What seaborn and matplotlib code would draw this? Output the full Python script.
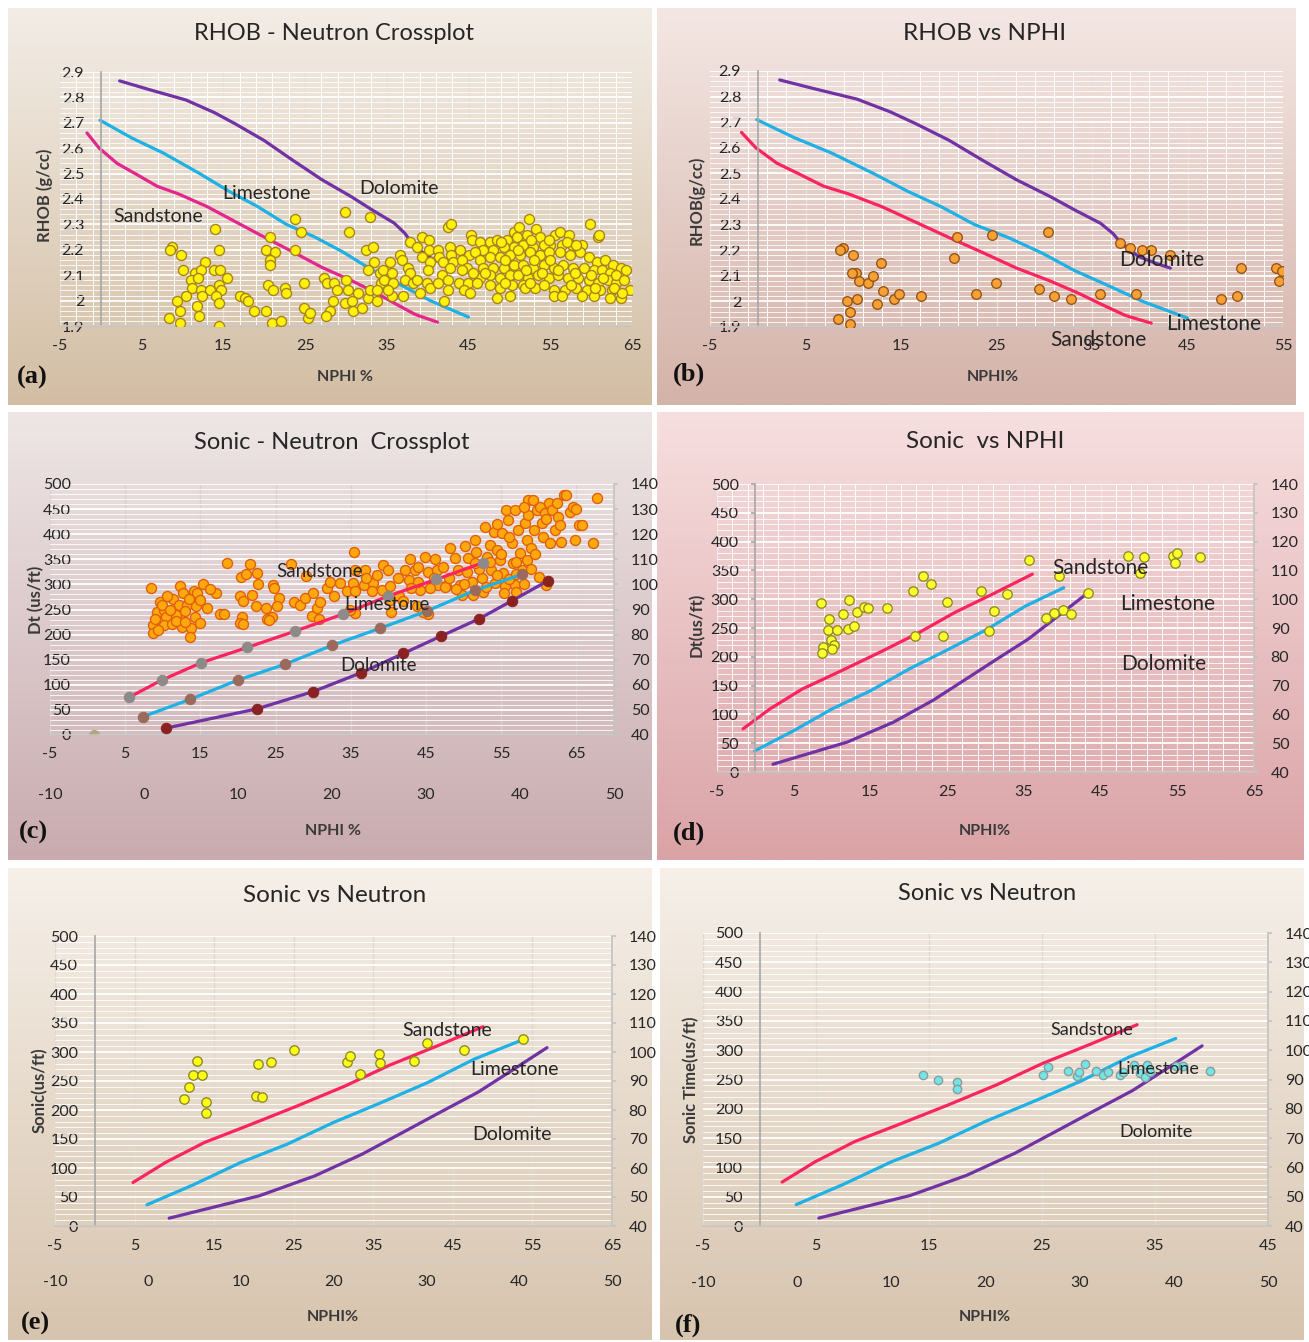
import numpy as np
import matplotlib
matplotlib.use("Agg")
import matplotlib.pyplot as plt
import seaborn as sns
from matplotlib.colors import LinearSegmentedColormap

sns.set_theme(style="white")
plt.rcParams["font.family"] = ["Lato", "DejaVu Sans"]

W, H = 1309, 1342

# ---------------- data ----------------
# density-neutron chart lines (NPHI %, RHOB g/cc)
ss_rho_x = [-1.7, -0.2, 2.0, 4.2, 6.9, 9.5, 13.0, 16.5, 20.0, 23.6, 27.1, 30.6, 33.7, 35.9, 38.5, 41.2]
ss_rho_y = [2.66, 2.60, 2.54, 2.50, 2.45, 2.42, 2.37, 2.31, 2.25, 2.19, 2.13, 2.08, 2.03, 1.99, 1.945, 1.915]
ls_rho_x = [-0.1, 3.8, 7.7, 12.1, 15.7, 19.2, 22.7, 26.2, 29.7, 33.2, 36.8, 40.3, 45.0]
ls_rho_y = [2.71, 2.64, 2.58, 2.50, 2.43, 2.37, 2.30, 2.25, 2.19, 2.12, 2.06, 2.00, 1.935]
dl_rho_x = [2.3, 6.0, 10.4, 13.9, 16.5, 20.0, 23.6, 27.1, 30.6, 33.3, 35.9, 37.2, 38.1, 39.9, 41.6, 43.2]
dl_rho_y = [2.865, 2.83, 2.79, 2.74, 2.695, 2.63, 2.55, 2.475, 2.41, 2.355, 2.305, 2.265, 2.225, 2.175, 2.15, 2.13]

# sonic chart lines (limestone porosity scale, Dt us/ft on the 40-140 axis)
ss_dt_x = [-1.6, 1.9, 6.1, 11.0, 16.1, 21.2, 26.0, 31.1, 36.1]
ss_dt_y = [55.0, 61.9, 68.8, 74.9, 81.4, 88.2, 95.4, 102.0, 108.7]
ls_dt_x = [-0.1, 4.9, 10.0, 15.0, 20.0, 25.1, 30.1, 35.2, 40.2]
ls_dt_y = [47.3, 54.2, 61.9, 68.2, 75.7, 82.5, 89.4, 97.6, 104.0]
dl_dt_x = [2.3, 12.0, 18.0, 23.1, 27.6, 31.6, 35.6, 39.1, 43.0]
dl_dt_y = [42.7, 50.4, 57.3, 64.8, 72.5, 79.4, 86.2, 93.4, 101.5]

# (a) well data
a_nphi = [14.0, 8.7, 8.5, 9.8, 14.5, 12.7, 10.1, 11.5, 12.3, 13.8,
          14.6, 15.4, 11.0, 11.9, 11.1, 12.3, 13.4, 14.4, 14.7, 9.3,
          10.4, 12.4, 14.1, 14.4, 11.8, 9.7, 12.0, 8.4, 9.7, 14.5,
          17.0, 17.6, 18.0, 18.7, 20.2, 20.9, 22.0, 20.7, 20.2, 21.3,
          20.7, 20.7, 20.5, 21.1, 22.5, 22.7, 24.8, 23.8, 24.5, 23.7,
          24.8, 25.3, 25.6, 27.3, 27.7, 28.5, 28.9, 30.0, 30.2, 31.5,
          28.4, 28.0, 27.6, 29.9, 30.7, 30.8, 32.0, 32.7, 33.8, 29.9,
          32.9, 30.4, 32.5, 33.3, 33.4, 32.7, 32.9, 34.3, 34.2, 35.0,
          33.8, 42.5, 42.9, 39.3, 40.2, 37.8, 38.7, 40.1, 41.2, 42.7,
          44.0, 45.0, 36.6, 36.8, 35.4, 37.6, 37.8, 39.3, 40.3, 41.4,
          41.9, 42.9, 43.1, 44.2, 44.8, 42.7, 44.2, 41.7, 40.0, 34.5,
          35.6, 34.6, 35.8, 37.2, 38.2, 38.7, 39.9, 40.3, 41.3, 42.5,
          43.8, 44.9, 35.6, 37.0, 39.1, 42.5, 44.4, 45.2, 42.0, 35.2,
          45.3, 45.4, 46.4, 47.6, 48.5, 49.7, 50.5, 51.2, 52.4, 53.3,
          53.8, 52.1, 50.9, 55.6, 56.2, 57.3, 59.8, 60.9, 58.9, 57.6,
          56.4, 55.0, 54.2, 52.9, 51.7, 50.5, 49.3, 48.0, 46.8, 45.8,
          46.4, 47.6, 48.9, 50.1, 51.3, 52.5, 53.8, 54.8, 56.2, 57.4,
          58.6, 59.7, 60.7, 61.7, 62.7, 63.6, 46.8, 48.0, 49.3, 50.5,
          51.7, 52.9, 54.2, 55.4, 56.6, 57.8, 59.1, 60.3, 61.3, 62.3,
          46.4, 47.6, 48.9, 50.1, 51.1, 52.3, 53.5, 54.8, 56.0, 57.2,
          58.4, 59.7, 60.9, 62.1, 63.1, 47.6, 48.9, 50.3, 51.7, 53.1,
          54.2, 55.4, 56.8, 58.2, 59.5, 61.1, 62.5, 64.7, 48.5, 50.1,
          51.9, 55.4, 56.4, 58.9, 60.3, 62.3, 63.6, 52.7, 54.8, 57.0,
          58.2, 49.0, 51.0, 53.0, 55.0, 49.5, 52.0, 54.0, 56.0, 58.0,
          60.0, 61.5, 63.0, 64.0, 47.0, 45.5, 46.0, 49.5, 52.5, 57.5,
          60.5, 62.8, 63.8, 61.0, 64.3]
a_rhob = [2.28, 2.21, 2.20, 2.18, 2.20, 2.15, 2.12, 2.11, 2.12, 2.12,
          2.12, 2.09, 2.08, 2.09, 2.05, 2.04, 2.04, 2.06, 2.04, 2.00,
          2.02, 2.02, 2.02, 1.99, 1.98, 1.96, 1.94, 1.93, 1.91, 1.90,
          2.02, 2.01, 2.00, 1.96, 1.96, 1.91, 1.92, 2.25, 2.20, 2.19,
          2.16, 2.14, 2.06, 2.04, 2.05, 2.03, 2.07, 2.32, 2.27, 2.20,
          1.97, 1.93, 1.95, 2.09, 2.07, 2.07, 2.04, 2.08, 2.04, 2.03,
          2.00, 1.96, 1.94, 1.99, 2.00, 1.96, 1.97, 2.01, 2.00, 2.35,
          2.33, 2.27, 2.20, 2.21, 2.15, 2.12, 2.04, 2.07, 2.11, 2.09,
          2.04, 2.29, 2.30, 2.25, 2.24, 2.23, 2.21, 2.20, 2.20, 2.21,
          2.20, 2.18, 2.18, 2.16, 2.15, 2.13, 2.11, 2.17, 2.15, 2.17,
          2.15, 2.18, 2.15, 2.16, 2.13, 2.13, 2.12, 2.10, 2.12, 2.12,
          2.11, 2.08, 2.07, 2.08, 2.07, 2.08, 2.07, 2.05, 2.07, 2.08,
          2.07, 2.07, 2.02, 2.02, 2.03, 2.04, 2.04, 2.03, 2.00, 2.04,
          2.26, 2.24, 2.23, 2.23, 2.24, 2.24, 2.27, 2.29, 2.32, 2.28,
          2.25, 2.26, 2.25, 2.26, 2.27, 2.26, 2.30, 2.25, 2.22, 2.22,
          2.22, 2.22, 2.22, 2.21, 2.22, 2.21, 2.21, 2.20, 2.20, 2.19,
          2.16, 2.17, 2.17, 2.18, 2.18, 2.19, 2.18, 2.19, 2.19, 2.18,
          2.19, 2.17, 2.15, 2.16, 2.14, 2.13, 2.13, 2.13, 2.13, 2.14,
          2.14, 2.13, 2.14, 2.13, 2.14, 2.13, 2.13, 2.12, 2.12, 2.11,
          2.09, 2.10, 2.09, 2.10, 2.10, 2.09, 2.10, 2.09, 2.10, 2.09,
          2.09, 2.08, 2.07, 2.08, 2.07, 2.06, 2.05, 2.06, 2.06, 2.05,
          2.06, 2.04, 2.04, 2.05, 2.04, 2.04, 2.04, 2.04, 2.01, 2.02,
          2.05, 2.02, 2.02, 2.02, 2.02, 2.01, 2.01, 2.24, 2.24, 2.23,
          2.22, 2.23, 2.20, 2.16, 2.16, 2.16, 2.12, 2.11, 2.12, 2.11,
          2.10, 2.09, 2.10, 2.08, 2.11, 2.11, 2.07, 2.07, 2.07, 2.06,
          2.05, 2.05, 2.03, 2.26, 2.12]

# (b) well data
b_nphi = [8.9, 8.6, 10.0, 10.3, 9.9, 10.6, 11.5, 12.1, 12.9, 13.1,
          9.3, 10.4, 12.5, 14.3, 14.8, 17.1, 9.7, 8.4, 9.7, 20.9,
          20.6, 24.5, 24.9, 22.9, 30.4, 29.4, 31.0, 32.8, 35.8, 37.9,
          39.0, 40.2, 41.2, 43.2, 39.6, 48.5, 50.2, 50.6, 54.3, 54.9,
          54.6]
b_rhob = [2.21, 2.20, 2.18, 2.11, 2.11, 2.08, 2.07, 2.10, 2.15, 2.04,
          2.00, 2.01, 1.99, 2.01, 2.03, 2.02, 1.96, 1.93, 1.91, 2.25,
          2.17, 2.26, 2.07, 2.03, 2.27, 2.05, 2.02, 2.01, 2.03, 2.23,
          2.21, 2.20, 2.20, 2.18, 2.03, 2.01, 2.02, 2.13, 2.13, 2.12,
          2.08]

# (c) well data
c_nphi = [8.4, 9.6, 9.2, 8.7, 8.7, 10.1, 10.4, 10.1, 11.4, 12.1,
          12.3, 12.7, 12.4, 13.2, 11.2, 11.8, 12.5, 14.1, 14.6, 15.4,
          14.4, 14.3, 13.8, 13.6, 15.9, 17.1, 17.6, 18.1, 18.6, 21.6,
          20.4, 21.0, 22.5, 22.6, 20.3, 21.8, 20.7, 22.4, 20.5, 20.2,
          20.7, 23.7, 23.8, 24.5, 24.7, 24.8, 25.4, 25.2, 27.1, 29.1,
          27.4, 28.2, 28.9, 29.8, 30.0, 30.5, 30.9, 31.8, 32.2, 32.7,
          33.6, 34.5, 35.6, 35.4, 9.0, 9.9, 11.0, 11.7, 13.0, 13.5,
          14.9, 10.6, 9.4, 12.9, 15.0, 16.3,
          35.6, 36.9, 35.3, 35.6, 36.7, 38.0, 37.8, 39.1, 40.2, 39.3,
          40.0, 41.3, 42.7, 42.9, 42.2, 43.5, 44.0, 44.9, 45.3, 46.2,
          46.4, 47.3, 46.6, 47.7, 48.2, 48.9, 49.3, 49.5, 50.2, 50.6,
          50.4, 51.1, 51.5, 51.7, 51.3, 52.8, 52.4, 52.6, 53.1, 53.5,
          53.7, 54.0, 54.2, 54.4, 54.8, 55.1, 55.3, 55.5, 55.7, 55.9,
          56.4, 56.6, 56.8, 56.8, 57.3, 57.5, 57.7, 58.2, 58.4, 58.6,
          58.6, 58.4, 59.0, 59.3, 59.7, 60.2, 60.4, 60.6, 60.8, 61.0,
          61.3, 61.5, 61.7, 62.2, 62.4, 62.6, 62.8, 63.0, 63.3, 64.1,
          64.6, 65.3, 64.8, 67.2, 67.7,
          57.0, 55.4, 49.8, 47.5, 44.2, 41.4, 45.3, 40.3, 35.5, 30.8,
          24.1, 34.9, 40.2, 42.0, 43.8, 44.6, 59.2, 63.6, 64.9, 65.7,
          48.0, 50.0, 52.0, 53.0, 54.5, 56.0, 57.0, 58.0, 59.0, 46.0,
          44.0, 38.5, 37.0, 43.0, 49.0, 51.5, 55.0, 57.0, 59.5, 60.0,
          45.5, 53.5, 56.0, 54.5, 58.0, 61.0]
c_dt = [292, 264, 246, 219, 204, 249, 236, 219, 270, 259,
        296, 282, 236, 259, 221, 239, 216, 286, 282, 301,
        257, 236, 213, 196, 252, 282, 241, 242, 342, 341,
        314, 321, 323, 301, 276, 279, 266, 257, 236, 223,
        221, 252, 232, 236, 299, 292, 272, 257, 341, 316,
        264, 259, 272, 237, 282, 252, 264, 292, 305, 276,
        302, 286, 292, 365, 232, 258, 250, 228, 226, 270,
        268, 276, 210, 247, 224, 291,
        329, 329, 302, 286, 299, 302, 286, 289, 296, 339,
        329, 312, 309, 350, 329, 329, 335, 355, 325, 350,
        329, 335, 299, 296, 372, 352, 329, 299, 377, 352,
        325, 305, 388, 365, 279, 415, 312, 285, 355, 379,
        329, 405, 302, 369, 349, 402, 322, 296, 448, 428,
        382, 342, 448, 299, 408, 362, 329, 422, 388, 468,
        438, 349, 372, 408, 448, 455, 422, 395, 442, 299,
        462, 382, 448, 408, 462, 435, 418, 385, 478, 445,
        455, 418, 388, 382, 472,
        284, 282, 279, 295, 289, 276, 242, 246, 244, 232,
        230, 249, 269, 266, 256, 246, 468, 478, 450, 418,
        312, 300, 330, 295, 318, 310, 320, 300, 330, 312,
        305, 318, 312, 292, 290, 342, 360, 345, 360, 315,
        292, 345, 395, 420, 455, 430]
c_zero_nphi = [0.9]
c_zero_dt = [0]

# (d) well data
d_nphi = [8.5, 9.6, 9.5, 9.8, 8.8, 8.7, 10.2, 10.0, 10.6, 11.4,
          12.2, 12.1, 12.8, 13.2, 14.2, 14.7, 17.2, 20.6, 21.9, 22.9,
          25.0, 20.8, 24.5, 29.4, 32.8, 31.1, 30.5, 35.7, 39.6, 37.9,
          38.9, 40.1, 41.2, 43.4, 48.6, 50.6, 50.2, 54.4, 54.9, 54.7,
          57.9]
d_dt = [293, 265, 247, 229, 217, 206, 220, 213, 246, 274,
        298, 249, 253, 278, 287, 284, 284, 315, 340, 326,
        296, 236, 236, 315, 309, 279, 245, 368, 340, 267,
        276, 282, 275, 311, 375, 373, 345, 375, 381, 362,
        373]

# (e) well data
e_nphi = [12.8, 12.3, 13.5, 11.9, 11.2, 14.0, 14.0, 20.5, 22.1, 20.3,
          21.0, 25.0, 31.7, 32.1, 33.3, 35.7, 35.9, 40.1, 41.7, 46.4, 53.8]
e_dt = [285, 261, 261, 240, 219, 214, 194, 280, 283, 225,
        222, 303, 282, 293, 262, 296, 281, 285, 315, 303, 322]

# (f) well data
f_nphi = [14.5, 15.8, 17.45, 17.45, 25.1, 25.5, 27.3, 28.1, 28.3, 28.8,
          29.8, 30.4, 30.8, 33.1, 33.7, 34.1, 34.3, 36.9, 37.5, 39.9,
          31.9, 32.2, 34.6]
f_dt = [258, 250, 245, 234, 258, 271, 265, 256, 263, 277,
        265, 258, 263, 275, 261, 255, 275, 273, 273, 265,
        258, 262, 262]

rho_ticks = [1.9, 2.0, 2.1, 2.2, 2.3, 2.4, 2.5, 2.6, 2.7, 2.8, 2.9]
rho_labels = ["1.9", "2", "2.1", "2.2", "2.3", "2.4", "2.5", "2.6", "2.7", "2.8", "2.9"]
dt_ticks = [0, 50, 100, 150, 200, 250, 300, 350, 400, 450, 500]
dt2_ticks = [40, 50, 60, 70, 80, 90, 100, 110, 120, 130, 140]
sec_x_ticks = [-10, 0, 10, 20, 30, 40, 50]
x65_ticks = [-5, 5, 15, 25, 35, 45, 55, 65]
x55_ticks = [-5, 5, 15, 25, 35, 45, 55]
x45_ticks = [-5, 5, 15, 25, 35, 45]

SAND_A = "#E3278C"
SAND = "#FA2461"
LIME = "#1DB1E6"
DOLO = "#7032A4"
TXT = "#262626"
LAB = "#3A3A3A"

# ---------------- helpers ----------------
fig = plt.figure(figsize=(W / 100, H / 100), dpi=100)


def frac(x0, y0, x1, y1):
    return [x0 / W, 1 - y1 / H, (x1 - x0) / W, (y1 - y0) / H]


def ftext(x, y, s, **kw):
    fig.text(x / W, 1 - y / H, s, ha="center", va="center", **kw)


def background(box, top, bottom):
    bg = fig.add_axes(frac(*box), zorder=0)
    cmap = LinearSegmentedColormap.from_list("bg", [top, bottom])
    bg.imshow(np.linspace(0, 1, 200)[:, None], cmap=cmap, aspect="auto",
              extent=[0, 1, 0, 1])
    bg.set_axis_off()


def main_axes(box, xticks, yticks, ylabels, show_yaxis=True):
    ax = fig.add_axes(frac(*box), zorder=2)
    ax.set_facecolor("none")
    ax.set_xticks(xticks, [str(t) for t in xticks])
    ax.set_yticks(yticks, ylabels)
    ax.spines[["top", "right"]].set_visible(False)
    ax.spines["left"].set_position(("data", 0))
    ax.spines["left"].set_color("#A9A9A9" if show_yaxis else "none")
    ax.spines["bottom"].set_color("#C4C4C4")
    ax.tick_params(axis="x", which="both", length=0, pad=9,
                   labelsize=11.5, labelcolor=TXT)
    ax.tick_params(axis="y", which="major", length=3, color="#A9A9A9",
                   pad=9, labelsize=11.5, labelcolor=TXT)
    ax.tick_params(axis="y", which="minor", length=0)
    ax.set_axisbelow(True)
    return ax


def grids(ax, xminor, yminor, xmajor_color, xminor_color=None):
    ax.set_xticks(xminor, minor=True)
    ax.set_yticks(yminor, minor=True)
    ax.grid(which="major", axis="x", color=xmajor_color, lw=1.0)
    if xminor_color:
        ax.grid(which="minor", axis="x", color=xminor_color, lw=0.7)
    ax.grid(which="minor", axis="y", color="white", lw=0.7, alpha=0.85)
    ax.grid(which="major", axis="y", color="white", lw=1.3)


def sec_axes(box, xlim, offset, bottom_color):
    s = fig.add_axes(frac(*box), zorder=3)
    s.set_facecolor("none")
    s.set_xlim(xlim)
    s.set_ylim(40, 140)
    s.set_xticks(sec_x_ticks, [str(t) for t in sec_x_ticks])
    s.set_yticks(dt2_ticks, [str(t) for t in dt2_ticks])
    s.yaxis.tick_right()
    s.spines[["top", "left"]].set_visible(False)
    s.spines["bottom"].set_position(("outward", offset))
    s.spines["bottom"].set_color(bottom_color)
    s.spines["right"].set_color("#C4C4C4")
    s.tick_params(axis="x", length=0, pad=9, labelsize=11.5, labelcolor=TXT)
    s.tick_params(axis="y", length=3, color="#C4C4C4", pad=9,
                  labelsize=11.5, labelcolor=TXT)
    return s


def curve(ax, x, y, color, trans=None, z=2, mcolor=None):
    kw = {}
    if trans is not None:
        kw["transform"] = trans
    if mcolor:
        kw.update(marker="o", markersize=7.5, markerfacecolor=mcolor,
                  markeredgecolor=mcolor)
    sns.lineplot(x=x, y=y, ax=ax, color=color, lw=2.3, sort=False,
                 estimator=None, zorder=z, **kw)


def dots(ax, x, y, face, edge, size=46, z=3):
    sns.scatterplot(x=x, y=y, ax=ax, s=size, color=face, edgecolor=edge,
                    linewidth=1.0, zorder=z)


def note(ax, x, y, s, size):
    ax.text(x, y, s, ha="center", va="center", fontsize=size, color=TXT,
            zorder=6)


def finish(ax, xlim, ylim):
    ax.set_xlim(xlim)
    ax.set_ylim(ylim)
    ax.set_xlabel("")
    ax.set_ylabel("")


# ---------------- backgrounds ----------------
background((8, 8, 652, 405), "#F3EDE6", "#D3BEA4")
background((657, 8, 1296, 405), "#F4E7E3", "#D4B3A9")
background((8, 412, 652, 860), "#EEE6E6", "#C9ABAF")
background((657, 412, 1304, 860), "#F7DFDF", "#DAA3A6")
background((8, 868, 652, 1340), "#F6F0E9", "#D7C4AE")
background((660, 868, 1304, 1340), "#F6F0E9", "#D7C4AE")

rho_minor = np.arange(1.9, 2.901, 0.02)
dt_minor = np.arange(0, 501, 10)

# ---------------- (a) ----------------
ax = main_axes((60, 72, 632, 326), x65_ticks, rho_ticks, rho_labels)
grids(ax, np.arange(-5, 66, 2), rho_minor, "#E4DED7", "#FFFFFF")
curve(ax, ss_rho_x, ss_rho_y, SAND_A)
curve(ax, ls_rho_x, ls_rho_y, LIME)
curve(ax, dl_rho_x, dl_rho_y, DOLO)
dots(ax, a_nphi, a_rhob, "#FFF10A", "#A8821A", size=52)
note(ax, 7.0, 2.33, "Sandstone", 14)
note(ax, 20.3, 2.42, "Limestone", 14)
note(ax, 36.5, 2.44, "Dolomite", 14)
finish(ax, (-5, 65), (1.9, 2.9))
ftext(334, 33, "RHOB - Neutron Crossplot", fontsize=17, color=TXT)
ftext(345, 377, "NPHI %", fontsize=11.5, color=LAB, fontweight="bold")
ftext(45, 195, "RHOB (g/cc)", fontsize=12, color=LAB, fontweight="bold",
      rotation=90)

# ---------------- (b) ----------------
ax = main_axes((710, 71, 1283, 327), x55_ticks, rho_ticks, rho_labels)
grids(ax, np.arange(-5, 56, 2), rho_minor, "#EADCD8", "#FFFFFF")
curve(ax, ss_rho_x, ss_rho_y, SAND)
curve(ax, ls_rho_x, ls_rho_y, LIME)
curve(ax, dl_rho_x, dl_rho_y, DOLO)
dots(ax, b_nphi, b_rhob, "#F6A136", "#985518", size=48)
note(ax, 42.3, 2.16, "Dolomite", 15)
note(ax, 47.7, 1.91, "Limestone", 15)
note(ax, 35.7, 1.85, "Sandstone", 15)
finish(ax, (-5, 55), (1.9, 2.9))
ftext(985, 33, "RHOB vs NPHI", fontsize=17.5, color=TXT)
ftext(993, 377, "NPHI%", fontsize=11.5, color=LAB, fontweight="bold")
ftext(696, 200, "RHOB(g/cc)", fontsize=12, color=LAB, fontweight="bold",
      rotation=90)

# ---------------- (c) ----------------
ax = main_axes((50, 484, 614, 735), x65_ticks, dt_ticks,
               [str(t) for t in dt_ticks], show_yaxis=False)
grids(ax, [], dt_minor, "#D9CFD0")
sc = sec_axes((50, 484, 614, 735), (-10, 50), 29, "none")
dots(ax, c_nphi, c_dt, "#FFA80D", "#E0600A", size=52, z=2)
dots(ax, c_zero_nphi, c_zero_dt, "#B3A57F", "#B3A57F", size=50, z=2)
curve(ax, ss_dt_x, ss_dt_y, SAND, sc.transData, z=3, mcolor="#8E8A8A")
curve(ax, ls_dt_x, ls_dt_y, LIME, sc.transData, z=3, mcolor="#9A6A5C")
curve(ax, dl_dt_x, dl_dt_y, DOLO, sc.transData, z=3, mcolor="#8A2222")
note(ax, 30.9, 326, "Sandstone", 13.5)
note(ax, 39.8, 259, "Limestone", 13.5)
note(ax, 38.7, 139, "Dolomite", 13.5)
finish(ax, (-5, 70), (0, 500))
ftext(332, 443, "Sonic - Neutron  Crossplot", fontsize=17, color=TXT)
ftext(333, 831, "NPHI %", fontsize=11.5, color=LAB, fontweight="bold")
ftext(36, 600, "Dt (us/ft)", fontsize=12, color=LAB, fontweight="bold",
      rotation=90)

# ---------------- (d) ----------------
ax = main_axes((717, 484, 1254, 772), x65_ticks, dt_ticks,
               [str(t) for t in dt_ticks])
grids(ax, np.arange(-5, 66, 2), dt_minor, "#F4E4E4", "#FFFFFF")
sd = ax.twinx()
sd.set_ylim(40, 140)
sd.set_yticks(dt2_ticks, [str(t) for t in dt2_ticks])
sd.spines[["top", "left", "bottom"]].set_visible(False)
sd.spines["right"].set_color("#C4C4C4")
sd.tick_params(axis="y", length=3, color="#C4C4C4", pad=9, labelsize=11.5,
               labelcolor=TXT)
curve(ax, ss_dt_x, ss_dt_y, SAND, sd.transData)
curve(ax, ls_dt_x, ls_dt_y, LIME, sd.transData)
curve(ax, dl_dt_x, dl_dt_y, DOLO, sd.transData)
dots(ax, d_nphi, d_dt, "#FFFF2E", "#8E8E22", size=46)
note(ax, 45.0, 355, "Sandstone", 15)
note(ax, 53.7, 291, "Limestone", 15)
note(ax, 53.2, 188, "Dolomite", 15)
finish(ax, (-5, 65), (0, 500))
sd.set_ylim(40, 140)
ftext(985, 442, "Sonic  vs NPHI", fontsize=17.5, color=TXT)
ftext(985, 831, "NPHI%", fontsize=11.5, color=LAB, fontweight="bold")
ftext(697, 625, "Dt(us/ft)", fontsize=12, color=LAB, fontweight="bold",
      rotation=90)

# ---------------- (e) ----------------
ax = main_axes((55, 936, 612, 1226), x65_ticks, dt_ticks,
               [str(t) for t in dt_ticks])
grids(ax, [], dt_minor, "#E0D8CE")
se = sec_axes((55, 936, 612, 1226), (-10, 50), 26, "#D4CCC2")
curve(ax, ss_dt_x, ss_dt_y, SAND, se.transData)
curve(ax, ls_dt_x, ls_dt_y, LIME, se.transData)
curve(ax, dl_dt_x, dl_dt_y, DOLO, se.transData)
dots(ax, e_nphi, e_dt, "#FFFF14", "#8C8A2C", size=46)
note(ax, 44.3, 337, "Sandstone", 14)
note(ax, 52.7, 269, "Limestone", 14)
note(ax, 52.4, 158, "Dolomite", 14)
finish(ax, (-5, 65), (0, 500))
ftext(335, 896, "Sonic vs Neutron", fontsize=17.5, color=TXT)
ftext(333, 1317, "NPHI%", fontsize=11.5, color=LAB, fontweight="bold")
ftext(40, 1090, "Sonic(us/ft)", fontsize=12, color=LAB, fontweight="bold",
      rotation=90)

# ---------------- (f) ----------------
ax = main_axes((703, 933, 1268, 1226), x45_ticks, dt_ticks,
               [str(t) for t in dt_ticks])
grids(ax, [], dt_minor, "#E0D8CE")
sf = sec_axes((703, 933, 1268, 1226), (-10, 50), 27, "#D4CCC2")
curve(ax, ss_dt_x, ss_dt_y, SAND, sf.transData)
curve(ax, ls_dt_x, ls_dt_y, LIME, sf.transData)
curve(ax, dl_dt_x, dl_dt_y, DOLO, sf.transData)
dots(ax, f_nphi, f_dt, "#72E6E6", "#8C9C9C", size=36)
note(ax, 29.4, 334, "Sandstone", 13)
note(ax, 35.3, 268, "Limestone", 13)
note(ax, 35.1, 160, "Dolomite", 13)
finish(ax, (-5, 45), (0, 500))
ftext(987, 893, "Sonic vs Neutron", fontsize=17, color=TXT)
ftext(985, 1317, "NPHI%", fontsize=11.5, color=LAB, fontweight="bold")
ftext(691, 1080, "Sonic Time(us/ft)", fontsize=12, color=LAB,
      fontweight="bold", rotation=90)

# ---------------- panel letters ----------------
serif = ["Liberation Serif", "DejaVu Serif"]
for lx, ly, lab in [(32, 377, "(a)"), (689, 374, "(b)"), (33, 832, "(c)"),
                    (689, 833, "(d)"), (35, 1323, "(e)"), (688, 1325, "(f)")]:
    ftext(lx, ly, lab, fontsize=19, fontweight="bold", family=serif,
          color="#111111")

fig.savefig("out.png", dpi=100)
